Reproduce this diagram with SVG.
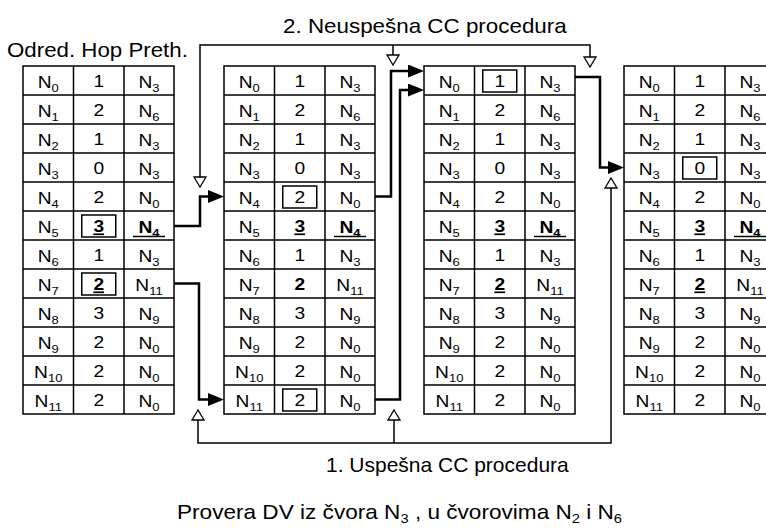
<svg xmlns="http://www.w3.org/2000/svg" width="766" height="530" viewBox="0 0 766 530">
  <style>
    text { font-family: "Liberation Sans", Arial, sans-serif; fill: #000; }
    .cell text { font-size: 17px; text-anchor: middle; }
    .s { font-size: 11.5px; }
    .b { font-weight: bold; }
    .u { text-decoration: underline; }
    .grid { fill: #fff; stroke: #000; stroke-width: 1.5; }
    .gl { fill: none; stroke: #000; stroke-width: 1.5; }
    .box { fill: none; stroke: #000; stroke-width: 1.5; }
    .ul { stroke: #000; stroke-width: 1.5; }
    .bold { fill: none; stroke: #000; stroke-width: 2.5; }
    .thin { fill: none; stroke: #000; stroke-width: 1.5; }
    .lbl { font-size: 20px; }
    .ls { font-size: 13px; }
  </style>
  <defs>
    <marker id="solid" markerUnits="userSpaceOnUse" markerWidth="16" markerHeight="13" viewBox="0 0 16 13" refX="0" refY="6.5" orient="auto">
      <path d="M0,0 L16,6.5 L0,13 z" fill="#000"/>
    </marker>
    <marker id="hollow" markerUnits="userSpaceOnUse" markerWidth="14" markerHeight="14" viewBox="-1 -1 14 14" refX="0" refY="6" orient="auto-start-reverse">
      <path d="M0,0 L10,6 L0,12 z" fill="#fff" stroke="#000" stroke-width="1.3"/>
    </marker>
    <path id="rows" d="M50.5,0V348M101,0V348M0,29H151M0,58H151M0,87H151M0,116H151M0,145H151M0,174H151M0,203H151M0,232H151M0,261H151M0,290H151M0,319H151"/>
  </defs>

  <!-- column headings -->
  <text class="lbl" transform="translate(7,57) scale(1.115,1)">Odred. Hop Preth.</text>

  <!-- table 1 -->
  <g id="table1" class="cell" transform="translate(23,66)">
    <rect class="grid" width="151" height="348"/>
    <use href="#rows" class="gl"/>
    <rect class="box" x="58.75" y="149" width="34" height="22"/>
    <rect class="box" x="58.75" y="207" width="34" height="22"/>
    <line class="ul" x1="110" y1="170.5" x2="142" y2="170.5"/>
    <g transform="scale(1.13,1)">
      <text x="22.35" y="22">N<tspan class="s" dy="4">0</tspan></text><text x="67.04" y="21.5">1</text><text x="111.5" y="22">N<tspan class="s" dy="4">3</tspan></text>
      <text x="22.35" y="51">N<tspan class="s" dy="4">1</tspan></text><text x="67.04" y="50.5">2</text><text x="111.5" y="51">N<tspan class="s" dy="4">6</tspan></text>
      <text x="22.35" y="80">N<tspan class="s" dy="4">2</tspan></text><text x="67.04" y="79.5">1</text><text x="111.5" y="80">N<tspan class="s" dy="4">3</tspan></text>
      <text x="22.35" y="109">N<tspan class="s" dy="4">3</tspan></text><text x="67.04" y="108.5">0</text><text x="111.5" y="109">N<tspan class="s" dy="4">3</tspan></text>
      <text x="22.35" y="138">N<tspan class="s" dy="4">4</tspan></text><text x="67.04" y="137.5">2</text><text x="111.5" y="138">N<tspan class="s" dy="4">0</tspan></text>
      <text x="22.35" y="167">N<tspan class="s" dy="4">5</tspan></text><text x="67.04" y="166.5" class="b u">3</text><text x="111.5" y="167" class="b">N<tspan class="s" dy="4">4</tspan></text>
      <text x="22.35" y="196">N<tspan class="s" dy="4">6</tspan></text><text x="67.04" y="195.5">1</text><text x="111.5" y="196">N<tspan class="s" dy="4">3</tspan></text>
      <text x="22.35" y="225">N<tspan class="s" dy="4">7</tspan></text><text x="67.04" y="224.5" class="b u">2</text><text x="111.5" y="225">N<tspan class="s" dy="4">11</tspan></text>
      <text x="22.35" y="254">N<tspan class="s" dy="4">8</tspan></text><text x="67.04" y="253.5">3</text><text x="111.5" y="254">N<tspan class="s" dy="4">9</tspan></text>
      <text x="22.35" y="283">N<tspan class="s" dy="4">9</tspan></text><text x="67.04" y="282.5">2</text><text x="111.5" y="283">N<tspan class="s" dy="4">0</tspan></text>
      <text x="22.35" y="312">N<tspan class="s" dy="4">10</tspan></text><text x="67.04" y="311.5">2</text><text x="111.5" y="312">N<tspan class="s" dy="4">0</tspan></text>
      <text x="22.35" y="341">N<tspan class="s" dy="4">11</tspan></text><text x="67.04" y="340.5">2</text><text x="111.5" y="341">N<tspan class="s" dy="4">0</tspan></text>
    </g>
  </g>

  <!-- table 2 -->
  <g id="table2" class="cell" transform="translate(224,66)">
    <rect class="grid" width="151" height="348"/>
    <use href="#rows" class="gl"/>
    <rect class="box" x="58.75" y="120" width="34" height="22"/>
    <rect class="box" x="58.75" y="323" width="34" height="22"/>
    <line class="ul" x1="110" y1="170.5" x2="142" y2="170.5"/>
    <g transform="scale(1.13,1)">
      <text x="22.35" y="22">N<tspan class="s" dy="4">0</tspan></text><text x="67.04" y="21.5">1</text><text x="111.5" y="22">N<tspan class="s" dy="4">3</tspan></text>
      <text x="22.35" y="51">N<tspan class="s" dy="4">1</tspan></text><text x="67.04" y="50.5">2</text><text x="111.5" y="51">N<tspan class="s" dy="4">6</tspan></text>
      <text x="22.35" y="80">N<tspan class="s" dy="4">2</tspan></text><text x="67.04" y="79.5">1</text><text x="111.5" y="80">N<tspan class="s" dy="4">3</tspan></text>
      <text x="22.35" y="109">N<tspan class="s" dy="4">3</tspan></text><text x="67.04" y="108.5">0</text><text x="111.5" y="109">N<tspan class="s" dy="4">3</tspan></text>
      <text x="22.35" y="138">N<tspan class="s" dy="4">4</tspan></text><text x="67.04" y="137.5">2</text><text x="111.5" y="138">N<tspan class="s" dy="4">0</tspan></text>
      <text x="22.35" y="167">N<tspan class="s" dy="4">5</tspan></text><text x="67.04" y="166.5" class="b u">3</text><text x="111.5" y="167" class="b">N<tspan class="s" dy="4">4</tspan></text>
      <text x="22.35" y="196">N<tspan class="s" dy="4">6</tspan></text><text x="67.04" y="195.5">1</text><text x="111.5" y="196">N<tspan class="s" dy="4">3</tspan></text>
      <text x="22.35" y="225">N<tspan class="s" dy="4">7</tspan></text><text x="67.04" y="224.5" class="b">2</text><text x="111.5" y="225">N<tspan class="s" dy="4">11</tspan></text>
      <text x="22.35" y="254">N<tspan class="s" dy="4">8</tspan></text><text x="67.04" y="253.5">3</text><text x="111.5" y="254">N<tspan class="s" dy="4">9</tspan></text>
      <text x="22.35" y="283">N<tspan class="s" dy="4">9</tspan></text><text x="67.04" y="282.5">2</text><text x="111.5" y="283">N<tspan class="s" dy="4">0</tspan></text>
      <text x="22.35" y="312">N<tspan class="s" dy="4">10</tspan></text><text x="67.04" y="311.5">2</text><text x="111.5" y="312">N<tspan class="s" dy="4">0</tspan></text>
      <text x="22.35" y="341">N<tspan class="s" dy="4">11</tspan></text><text x="67.04" y="340.5">2</text><text x="111.5" y="341">N<tspan class="s" dy="4">0</tspan></text>
    </g>
  </g>

  <!-- table 3 -->
  <g id="table3" class="cell" transform="translate(424,66)">
    <rect class="grid" width="151" height="348"/>
    <use href="#rows" class="gl"/>
    <rect class="box" x="58.75" y="4" width="34" height="22"/>
    <line class="ul" x1="110" y1="170.5" x2="142" y2="170.5"/>
    <g transform="scale(1.13,1)">
      <text x="22.35" y="22">N<tspan class="s" dy="4">0</tspan></text><text x="67.04" y="21.5">1</text><text x="111.5" y="22">N<tspan class="s" dy="4">3</tspan></text>
      <text x="22.35" y="51">N<tspan class="s" dy="4">1</tspan></text><text x="67.04" y="50.5">2</text><text x="111.5" y="51">N<tspan class="s" dy="4">6</tspan></text>
      <text x="22.35" y="80">N<tspan class="s" dy="4">2</tspan></text><text x="67.04" y="79.5">1</text><text x="111.5" y="80">N<tspan class="s" dy="4">3</tspan></text>
      <text x="22.35" y="109">N<tspan class="s" dy="4">3</tspan></text><text x="67.04" y="108.5">0</text><text x="111.5" y="109">N<tspan class="s" dy="4">3</tspan></text>
      <text x="22.35" y="138">N<tspan class="s" dy="4">4</tspan></text><text x="67.04" y="137.5">2</text><text x="111.5" y="138">N<tspan class="s" dy="4">0</tspan></text>
      <text x="22.35" y="167">N<tspan class="s" dy="4">5</tspan></text><text x="67.04" y="166.5" class="b u">3</text><text x="111.5" y="167" class="b">N<tspan class="s" dy="4">4</tspan></text>
      <text x="22.35" y="196">N<tspan class="s" dy="4">6</tspan></text><text x="67.04" y="195.5">1</text><text x="111.5" y="196">N<tspan class="s" dy="4">3</tspan></text>
      <text x="22.35" y="225">N<tspan class="s" dy="4">7</tspan></text><text x="67.04" y="224.5" class="b u">2</text><text x="111.5" y="225">N<tspan class="s" dy="4">11</tspan></text>
      <text x="22.35" y="254">N<tspan class="s" dy="4">8</tspan></text><text x="67.04" y="253.5">3</text><text x="111.5" y="254">N<tspan class="s" dy="4">9</tspan></text>
      <text x="22.35" y="283">N<tspan class="s" dy="4">9</tspan></text><text x="67.04" y="282.5">2</text><text x="111.5" y="283">N<tspan class="s" dy="4">0</tspan></text>
      <text x="22.35" y="312">N<tspan class="s" dy="4">10</tspan></text><text x="67.04" y="311.5">2</text><text x="111.5" y="312">N<tspan class="s" dy="4">0</tspan></text>
      <text x="22.35" y="341">N<tspan class="s" dy="4">11</tspan></text><text x="67.04" y="340.5">2</text><text x="111.5" y="341">N<tspan class="s" dy="4">0</tspan></text>
    </g>
  </g>

  <!-- table 4 -->
  <g id="table4" class="cell" transform="translate(624,66)">
    <rect class="grid" width="151" height="348"/>
    <use href="#rows" class="gl"/>
    <rect class="box" x="58.75" y="91" width="34" height="22"/>
    <line class="ul" x1="110" y1="170.5" x2="142" y2="170.5"/>
    <g transform="scale(1.13,1)">
      <text x="22.35" y="22">N<tspan class="s" dy="4">0</tspan></text><text x="67.04" y="21.5">1</text><text x="111.5" y="22">N<tspan class="s" dy="4">3</tspan></text>
      <text x="22.35" y="51">N<tspan class="s" dy="4">1</tspan></text><text x="67.04" y="50.5">2</text><text x="111.5" y="51">N<tspan class="s" dy="4">6</tspan></text>
      <text x="22.35" y="80">N<tspan class="s" dy="4">2</tspan></text><text x="67.04" y="79.5">1</text><text x="111.5" y="80">N<tspan class="s" dy="4">3</tspan></text>
      <text x="22.35" y="109">N<tspan class="s" dy="4">3</tspan></text><text x="67.04" y="108.5">0</text><text x="111.5" y="109">N<tspan class="s" dy="4">3</tspan></text>
      <text x="22.35" y="138">N<tspan class="s" dy="4">4</tspan></text><text x="67.04" y="137.5">2</text><text x="111.5" y="138">N<tspan class="s" dy="4">0</tspan></text>
      <text x="22.35" y="167">N<tspan class="s" dy="4">5</tspan></text><text x="67.04" y="166.5" class="b u">3</text><text x="111.5" y="167" class="b">N<tspan class="s" dy="4">4</tspan></text>
      <text x="22.35" y="196">N<tspan class="s" dy="4">6</tspan></text><text x="67.04" y="195.5">1</text><text x="111.5" y="196">N<tspan class="s" dy="4">3</tspan></text>
      <text x="22.35" y="225">N<tspan class="s" dy="4">7</tspan></text><text x="67.04" y="224.5" class="b u">2</text><text x="111.5" y="225">N<tspan class="s" dy="4">11</tspan></text>
      <text x="22.35" y="254">N<tspan class="s" dy="4">8</tspan></text><text x="67.04" y="253.5">3</text><text x="111.5" y="254">N<tspan class="s" dy="4">9</tspan></text>
      <text x="22.35" y="283">N<tspan class="s" dy="4">9</tspan></text><text x="67.04" y="282.5">2</text><text x="111.5" y="283">N<tspan class="s" dy="4">0</tspan></text>
      <text x="22.35" y="312">N<tspan class="s" dy="4">10</tspan></text><text x="67.04" y="311.5">2</text><text x="111.5" y="312">N<tspan class="s" dy="4">0</tspan></text>
      <text x="22.35" y="341">N<tspan class="s" dy="4">11</tspan></text><text x="67.04" y="340.5">2</text><text x="111.5" y="341">N<tspan class="s" dy="4">0</tspan></text>
    </g>
  </g>

  <!-- connectors -->
  <g id="connectors">
    <path class="bold" d="M174,226 H200 V196.5 H208" marker-end="url(#solid)"/>
    <path class="bold" d="M174,283.5 H199 V399.5 H208" marker-end="url(#solid)"/>
    <path class="bold" d="M375,196.5 H391 V71 H408" marker-end="url(#solid)"/>
    <path class="bold" d="M375,399.5 H400 V90 H408" marker-end="url(#solid)"/>
    <path class="bold" d="M575,77 H600 V167.5 H608" marker-end="url(#solid)"/>
    <!-- failed CC loop -->
    <path class="thin" d="M200,177 V45 H590 V57" marker-start="url(#hollow)" marker-end="url(#hollow)"/>
    <path class="thin" d="M393,45 V55" marker-end="url(#hollow)"/>
    <!-- successful CC loop -->
    <path class="thin" d="M198,420 V443 H611 V188" marker-start="url(#hollow)" marker-end="url(#hollow)"/>
    <path class="thin" d="M394,443 V420" marker-end="url(#hollow)"/>
  </g>

  <!-- labels -->
  <text class="lbl" transform="translate(283,33) scale(1.12,1)">2. Neuspešna CC procedura</text>
  <text class="lbl" transform="translate(326,472) scale(1.05,1)">1. Uspešna CC procedura</text>
  <text class="lbl" transform="translate(177,519) scale(1.13,1)">Provera DV iz čvora N<tspan class="ls" dy="4">3</tspan><tspan dy="-4"> , u čvorovima N</tspan><tspan class="ls" dy="4">2</tspan><tspan dy="-4"> i N</tspan><tspan class="ls" dy="4">6</tspan></text>
</svg>
